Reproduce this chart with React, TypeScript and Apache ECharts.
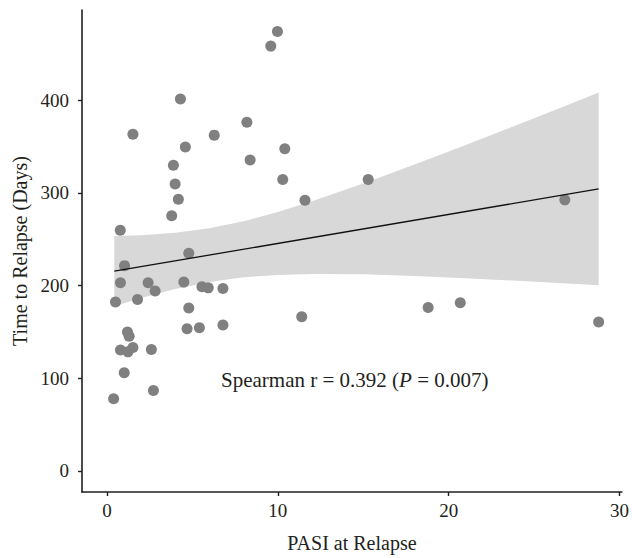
import React, { useEffect, useRef } from "react";
import * as echarts from "echarts";

// PASI at relapse (x) and time to relapse in days (y)
const pasi = [
  4.30, 1.52, 6.28, 8.19, 4.59, 8.38, 3.89, 3.99, 4.18, 3.79,
  0.78, 9.98, 9.59, 10.41, 10.29, 15.29, 11.59, 4.79, 1.03, 0.79,
  2.41, 4.50, 2.82, 0.50, 1.79, 5.56, 5.93, 6.79, 4.79, 4.69,
  5.41, 6.79, 1.20, 1.30, 0.79, 1.23, 1.52, 2.60, 1.01, 0.39,
  2.72, 11.40, 26.80, 18.80, 20.68, 28.78,
];
const days = [
  401.5, 363.4, 362.4, 376.3, 349.5, 335.5, 329.8, 309.7, 293.2, 275.3,
  259.6, 474.2, 458.5, 347.7, 314.4, 314.4, 292.2, 234.8, 221.5, 202.9,
  202.9, 203.7, 194.0, 182.2, 184.9, 198.6, 197.5, 196.8, 175.7, 153.4,
  154.5, 157.4, 149.9, 145.2, 130.5, 128.4, 133.0, 130.9, 105.8, 77.8,
  86.8, 166.3, 292.5, 176.3, 181.4, 160.6,
];

// Fitted line end points
const fitX = [0.43, 28.78];
const fitY = [215.5, 304.3];

// Confidence band
const bandX = [0.43, 2, 4, 6, 8, 10, 12, 15, 18, 21, 24, 27, 28.78];
const bandLower = [177.6, 186.5, 196.4, 203.9, 208.9, 211.5, 212.5, 212.1, 210.4, 208.0, 205.2, 202.2, 200.3];
const bandUpper = [253.4, 254.3, 257.0, 261.9, 269.5, 279.3, 290.9, 310.1, 330.6, 351.8, 373.4, 395.2, 408.3];

const xTicks = [0, 10, 20, 30];
const yTicks = [0, 100, 200, 300, 400];

const xTitle = "PASI at Relapse";
const yTitle = "Time to Relapse (Days)";
const annotationLead = "Spearman r = 0.392 (";
const annotationP = "P";
const annotationTail = " = 0.007)";

export default function App() {
  const ref = useRef<HTMLDivElement>(null);
  useEffect(() => {
    if (!ref.current) return;
    document.body.style.margin = "0";
    const chart = echarts.init(ref.current, null, { renderer: "svg" });
    const font = "'Liberation Serif', 'DejaVu Serif', serif";
    const ink = "#231f20";
    const axisCommon = {
      splitLine: { show: false },
      axisLine: { show: true, onZero: false, lineStyle: { color: ink, width: 1.6 } },
      axisTick: { show: true, length: 4, lineStyle: { color: ink, width: 1.4 } },
    };
    chart.setOption({
      animation: false,
      backgroundColor: "#ffffff",
      grid: { left: 82, right: 9, top: 10, bottom: 64, containLabel: false },
      xAxis: {
        type: "value",
        min: -1.46,
        max: 30.14,
        ...axisCommon,
        axisTick: { ...axisCommon.axisTick, customValues: xTicks },
        axisLabel: {
          customValues: xTicks,
          color: ink,
          fontFamily: font,
          fontSize: 19,
          margin: 9,
        },
        name: xTitle,
        nameLocation: "middle",
        nameGap: 41,
        nameTextStyle: { color: ink, fontFamily: font, fontSize: 20 },
      },
      yAxis: {
        type: "value",
        min: -22.9,
        max: 497.5,
        ...axisCommon,
        axisTick: { ...axisCommon.axisTick, customValues: yTicks },
        axisLabel: {
          customValues: yTicks,
          color: ink,
          fontFamily: font,
          fontSize: 19,
          margin: 13,
        },
        name: yTitle,
        nameLocation: "middle",
        nameGap: 50,
        nameRotate: 90,
        nameTextStyle: { color: ink, fontFamily: font, fontSize: 20 },
      },
      series: [
        {
          type: "custom",
          silent: true,
          z: 1,
          data: [[bandX[0], bandLower[0]]],
          renderItem: (_params: any, api: any) => {
            const pts: number[][] = [];
            for (let i = 0; i < bandX.length; i++) pts.push(api.coord([bandX[i], bandUpper[i]]));
            for (let i = bandX.length - 1; i >= 0; i--) pts.push(api.coord([bandX[i], bandLower[i]]));
            return {
              type: "polygon",
              shape: { points: pts, smooth: 0 },
              style: { fill: "#d8d8d8", stroke: "none" },
            };
          },
        },
        {
          type: "scatter",
          z: 2,
          symbol: "circle",
          symbolSize: 11,
          itemStyle: { color: "#808080", opacity: 1 },
          data: pasi.map((x, i) => [x, days[i]]),
        },
        {
          type: "line",
          z: 3,
          symbol: "none",
          lineStyle: { color: "#111111", width: 1.3 },
          data: fitX.map((x, i) => [x, fitY[i]]),
        },
      ],
      graphic: [
        {
          type: "text",
          x: 221,
          y: 380,
          style: {
            text: `{a|${annotationLead}}{b|${annotationP}}{a|${annotationTail}}`,
            verticalAlign: "middle",
            rich: {
              a: { fontFamily: font, fontSize: 21, fill: ink, color: ink },
              b: { fontFamily: font, fontSize: 21, fontStyle: "italic", fill: ink, color: ink },
            },
          },
        },
      ],
    });
    return () => chart.dispose();
  }, []);
  return (
    <div
      ref={ref}
      style={{ position: "absolute", left: 0, top: 0, width: 632, height: 558 }}
    />
  );
}
